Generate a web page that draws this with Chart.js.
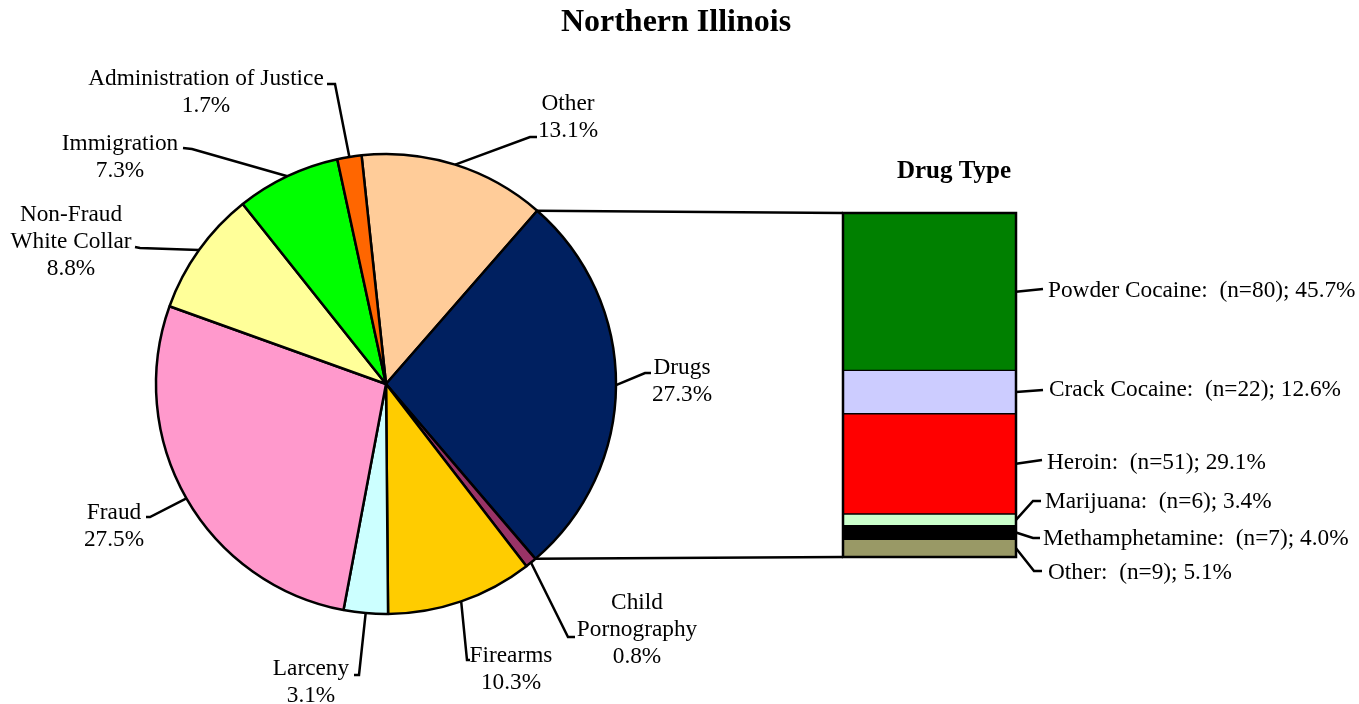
<!DOCTYPE html>
<html><head><meta charset="utf-8">
<script src="https://cdn.jsdelivr.net/npm/chart.js@4"></script>
<style>
html,body{margin:0;padding:0;background:#fff;}
#wrap{position:relative;width:1359px;height:704px;}
canvas{position:absolute;left:0;top:0;}
</style></head><body>
<div id="wrap"><canvas id="pie" width="1359" height="704"></canvas><canvas id="bar" width="1359" height="704"></canvas></div>
<script>
// ---- data ----
const categories = ['Other','Drugs','Child\nPornography','Firearms','Larceny','Fraud','Non-Fraud\nWhite Collar','Immigration','Administration of Justice'];
const shares = [13.1, 27.3, 0.8, 10.3, 3.1, 27.5, 8.8, 7.3, 1.7];
const drugTypes = ['Powder Cocaine','Crack Cocaine','Heroin','Marijuana','Methamphetamine','Other'];
const drugCounts = [80, 22, 51, 6, 7, 9];
const drugShares = [45.7, 12.6, 29.1, 3.4, 4.0, 5.1];

// ---- styles / layout ----
const pieColors = ['#FFCC99','#002060','#993366','#FFCC00','#CCFFFF','#FF99CC','#FFFF99','#00FF00','#FF6600'];
const drugColors = ['#008000','#CCCCFF','#FF0000','#CCFFCC','#000000','#999966'];
const FONT = "'Liberation Serif','Times New Roman',serif";
const LH = 27;
const pieLabelLayout = [
  {cx:568, y:104, path:[[530,137],[537,137]]},
  {cx:682, y:368, path:[[645,373],[651,373]]},
  {cx:637, y:603, path:[[568,637],[575,637]]},
  {cx:511, y:656, path:[[467,660],[470,660]]},
  {cx:311, y:669, path:[[359,675],[354,675]]},
  {cx:114, y:513, path:[[150,517],[146,517]]},
  {cx:71,  y:215, path:[[140,248],[135,247]]},
  {cx:120, y:144, path:[[192,149],[183,148]]},
  {cx:206, y:79,  path:[[335,84],[327,84]]}
];
const drugLabelLayout = [
  {x:1048, y:291, path:[[1043,289]]},
  {x:1049, y:390, path:[[1043,390]]},
  {x:1047, y:463, path:[[1042,460]]},
  {x:1045, y:502, path:[[1033,501],[1041,501]]},
  {x:1043, y:539, path:[[1033,538],[1040,538]]},
  {x:1048, y:573, path:[[1034,571],[1042,571]]}
];

function drawPath(ctx, pts){
  ctx.beginPath();
  ctx.moveTo(pts[0][0], pts[0][1]);
  for (let i=1;i<pts.length;i++) ctx.lineTo(pts[i][0], pts[i][1]);
  ctx.stroke();
}

const pieLabels = {
  id:'pieLabels',
  afterDraw(chart){
    const ctx = chart.ctx;
    ctx.save();
    ctx.fillStyle = '#000';
    ctx.textAlign = 'center';
    ctx.textBaseline = 'middle';
    ctx.font = "bold 32px " + FONT;
    ctx.fillText('Northern Illinois', 676, 23);
    const arcs = chart.getDatasetMeta(0).data;
    ctx.strokeStyle = '#000';
    ctx.lineWidth = 2.5;
    ctx.font = "23.3px " + FONT;
    arcs.forEach((arc, i) => {
      const mid = (arc.startAngle + arc.endAngle) / 2;
      const sx = arc.x + arc.outerRadius * Math.cos(mid);
      const sy = arc.y + arc.outerRadius * Math.sin(mid);
      const L = pieLabelLayout[i];
      drawPath(ctx, [[sx, sy]].concat(L.path));
      const lines = categories[i].split('\n').concat([shares[i].toFixed(1) + '%']);
      lines.forEach((t, k) => ctx.fillText(t, L.cx, L.y + k * LH));
    });
    ctx.restore();
  }
};

const pieChart = new Chart(document.getElementById('pie'), {
  type:'pie',
  data:{
    labels: categories.map(c => c.replace('\n',' ')),
    datasets:[{data: shares, backgroundColor: pieColors, borderColor:'#000', borderWidth:2.5, radius:230}]
  },
  options:{
    responsive:false,
    animation:false,
    rotation:-6.1,
    layout:{padding:{left:100, right:687, top:100, bottom:36}},
    plugins:{legend:{display:false}, title:{display:false}, tooltip:{enabled:false}}
  },
  plugins:[pieLabels]
});

const barLabels = {
  id:'barLabels',
  afterDraw(chart){
    const ctx = chart.ctx;
    const area = chart.chartArea;
    ctx.save();
    ctx.strokeStyle = '#000';
    ctx.lineWidth = 2.5;
    ctx.strokeRect(area.left, area.top, area.right - area.left, area.bottom - area.top);
    const drugArc = pieChart.getDatasetMeta(0).data[1];
    const p1 = [drugArc.x + drugArc.outerRadius * Math.cos(drugArc.startAngle), drugArc.y + drugArc.outerRadius * Math.sin(drugArc.startAngle)];
    const p2 = [drugArc.x + drugArc.outerRadius * Math.cos(drugArc.endAngle), drugArc.y + drugArc.outerRadius * Math.sin(drugArc.endAngle)];
    drawPath(ctx, [p1, [area.left, area.top]]);
    drawPath(ctx, [p2, [area.left, area.bottom]]);
    ctx.fillStyle = '#000';
    ctx.textAlign = 'center';
    ctx.textBaseline = 'middle';
    ctx.font = "bold 25px " + FONT;
    ctx.fillText('Drug Type', 954, 172);
    ctx.textAlign = 'left';
    ctx.font = "23.3px " + FONT;
    const n = drugTypes.length;
    drugTypes.forEach((name, i) => {
      const el = chart.getDatasetMeta(n - 1 - i).data[0];
      const sx = el.x + el.width / 2;
      const sy = (el.y + el.base) / 2;
      const L = drugLabelLayout[i];
      drawPath(ctx, [[sx, sy]].concat(L.path));
      ctx.fillText(name + ':  (n=' + drugCounts[i] + '); ' + drugShares[i].toFixed(1) + '%', L.x, L.y);
    });
    ctx.restore();
  }
};

const total = drugShares.reduce((a,b)=>a+b,0);
const barDatasets = drugTypes.map((name, i) => ({
  label: name,
  data: [drugShares[i]],
  backgroundColor: drugColors[i],
  borderColor:'#000',
  borderWidth:1,
  borderSkipped:false,
  barPercentage:1,
  categoryPercentage:1
})).reverse();

new Chart(document.getElementById('bar'), {
  type:'bar',
  data:{labels:['Drugs'], datasets: barDatasets},
  options:{
    responsive:false,
    animation:false,
    layout:{padding:{left:843, right:343, top:213, bottom:147}},
    scales:{
      x:{display:false, stacked:true},
      y:{display:false, stacked:true, min:0, max:total}
    },
    plugins:{legend:{display:false}, title:{display:false}, tooltip:{enabled:false}}
  },
  plugins:[barLabels]
});
</script>
</body></html>
